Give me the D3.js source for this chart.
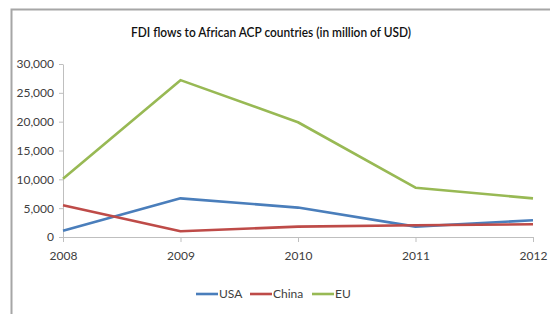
<!DOCTYPE html>
<html>
<head>
<meta charset="utf-8">
<script src="https://cdn.jsdelivr.net/npm/d3@7"></script>
<style>
  html, body { margin: 0; padding: 0; background: #fff; }
  svg { display: block; font-family: Lato, "Open Sans", sans-serif; }
</style>
</head>
<body>
<div id="chart"></div>
<script>
// data
const years = [2008, 2009, 2010, 2011, 2012];
const usa = [1100, 6700, 5100, 1800, 2900];
const china = [5500, 1000, 1800, 2050, 2200];
const eu = [10100, 27200, 19900, 8550, 6700];
const yTicks = [0, 5000, 10000, 15000, 20000, 25000, 30000];

const series = [
  { name: "USA", values: usa, color: "#4a7ebb" },
  { name: "China", values: china, color: "#be4b48" },
  { name: "EU", values: eu, color: "#98b954" }
];

const width = 550, height = 314;

let svg = d3.select("#chart")
            .append("svg")
            .attr("width", width)
            .attr("height", height);

// frame of the chart area
svg.append("path")
   .attr("d", "M11.5,314 V9.5 H550")
   .attr("fill", "none")
   .attr("stroke", "#a6a6a6")
   .attr("stroke-width", 2);

// title
svg.append("text")
   .attr("x", 271)
   .attr("y", 37)
   .attr("text-anchor", "middle")
   .attr("font-size", 14)
   .attr("font-weight", 600)
   .attr("fill", "#111")
   .attr("textLength", 280)
   .attr("lengthAdjust", "spacingAndGlyphs")
   .text("FDI flows to African ACP countries (in million of USD)");

let x = d3.scalePoint()
          .domain(years)
          .range([63, 533]);

let y = d3.scaleLinear()
          .domain([0, 30000])
          .range([237, 64]);

// y axis
let yAxis = svg.append("g")
               .attr("transform", "translate(63,0)")
               .call(d3.axisLeft(y).tickValues(yTicks).tickSize(4).tickSizeOuter(0)
                       .tickFormat(d3.format(",")));
yAxis.select(".domain").attr("stroke", "#bfbfbf");
yAxis.selectAll(".tick line").attr("stroke", "#bfbfbf");
yAxis.selectAll(".tick text")
     .attr("font-size", 12)
     .attr("fill", "#404040")
     .attr("font-family", "Lato, Open Sans, sans-serif")
     .attr("x", -9);

// x axis
let xAxis = svg.append("g")
               .attr("transform", "translate(0,237)")
               .call(d3.axisBottom(x).tickSize(5).tickSizeOuter(0));
xAxis.select(".domain").attr("stroke", "#bfbfbf");
xAxis.selectAll(".tick line").attr("stroke", "#bfbfbf");
xAxis.selectAll(".tick text")
     .attr("font-size", 12)
     .attr("fill", "#404040")
     .attr("font-family", "Lato, Open Sans, sans-serif")
     .attr("y", 14);

// lines
let line = d3.line()
             .x((d, i) => x(years[i]))
             .y(d => y(d));

svg.selectAll(".series")
   .data(series)
   .enter()
   .append("path")
   .attr("class", "series")
   .attr("d", d => line(d.values))
   .attr("fill", "none")
   .attr("stroke", d => d.color)
   .attr("stroke-width", 2.6)
   .attr("stroke-linejoin", "round");

// legend
const legendX = [196, 250, 312];
let legend = svg.selectAll(".legend")
                .data(series)
                .enter()
                .append("g")
                .attr("class", "legend")
                .attr("transform", (d, i) => "translate(" + legendX[i] + ",294)");

legend.append("line")
      .attr("x1", 0)
      .attr("x2", 22)
      .attr("stroke", d => d.color)
      .attr("stroke-width", 2.6);

legend.append("text")
      .attr("x", 23)
      .attr("dy", "0.35em")
      .attr("font-size", 12)
      .attr("fill", "#404040")
      .text(d => d.name);
</script>
</body>
</html>
